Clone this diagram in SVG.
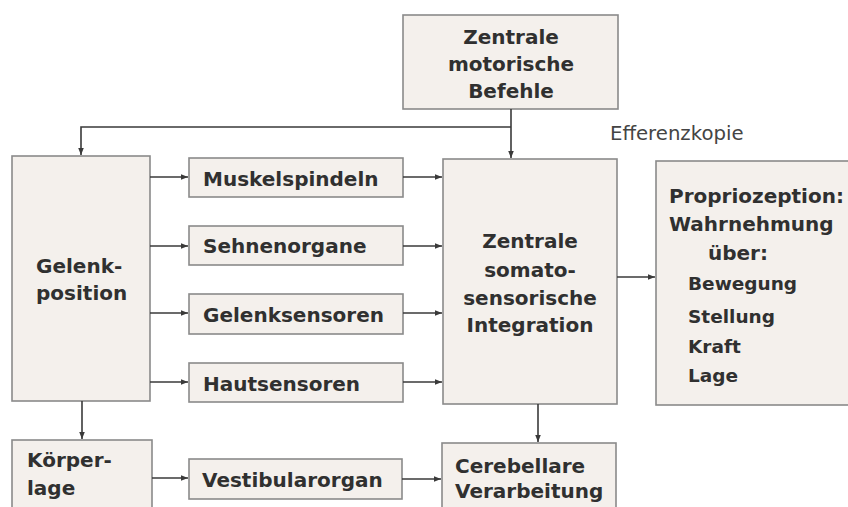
<svg xmlns="http://www.w3.org/2000/svg" width="848" height="507" viewBox="0 0 848 507">
  <style>
    .box { fill: #f4f0ec; stroke: #8a8a8a; stroke-width: 1.6; }
    .lbl { font-family: "DejaVu Sans", Verdana, sans-serif; font-weight: bold; font-size: 20px; fill: #303030; }
    .item { font-size: 18.5px; }
    .mid { text-anchor: middle; }
    .note { font-family: "DejaVu Sans", Verdana, sans-serif; font-size: 19.7px; fill: #444444; }
    .wire { fill: none; stroke: #3a3a3a; stroke-width: 1.6; marker-end: url(#arrow); }
  </style>
  <defs>
    <marker id="arrow" viewBox="0 0 10 10" refX="10" refY="5" markerWidth="7" markerHeight="7" markerUnits="userSpaceOnUse" orient="auto">
      <path d="M0,1 L10,5 L0,9 z" fill="#3a3a3a"/>
    </marker>
  </defs>
  <rect width="848" height="507" fill="#ffffff"/>

  <g id="motor-commands">
    <rect class="box" x="403" y="15" width="215" height="94"/>
    <text class="lbl mid" x="511" y="44">Zentrale</text>
    <text class="lbl mid" x="511" y="71">motorische</text>
    <text class="lbl mid" x="511" y="98">Befehle</text>
  </g>

  <text class="note" x="610" y="140">Efferenzkopie</text>

  <g id="joint-position">
    <rect class="box" x="12" y="156" width="138" height="245"/>
    <text class="lbl" x="36" y="273">Gelenk-</text>
    <text class="lbl" x="36" y="300">position</text>
  </g>

  <g id="muscle-spindles">
    <rect class="box" x="189" y="158" width="214" height="39"/>
    <text class="lbl" x="203" y="186">Muskelspindeln</text>
  </g>

  <g id="tendon-organs">
    <rect class="box" x="189" y="226" width="214" height="39"/>
    <text class="lbl" x="203" y="253">Sehnenorgane</text>
  </g>

  <g id="joint-sensors">
    <rect class="box" x="189" y="294" width="214" height="40"/>
    <text class="lbl" x="203" y="322">Gelenksensoren</text>
  </g>

  <g id="skin-sensors">
    <rect class="box" x="189" y="363" width="214" height="39"/>
    <text class="lbl" x="203" y="391">Hautsensoren</text>
  </g>

  <g id="somatosensory-integration">
    <rect class="box" x="443" y="159" width="174" height="245"/>
    <text class="lbl mid" x="530" y="248">Zentrale</text>
    <text class="lbl mid" x="530" y="277">somato-</text>
    <text class="lbl mid" x="530" y="305">sensorische</text>
    <text class="lbl mid" x="530" y="332">Integration</text>
  </g>

  <g id="proprioception">
    <rect class="box" x="656" y="161" width="200" height="244"/>
    <text class="lbl" x="669" y="203">Propriozeption:</text>
    <text class="lbl" x="669" y="231">Wahrnehmung</text>
    <text class="lbl" x="708" y="260">über:</text>
    <text class="lbl item" x="688" y="290">Bewegung</text>
    <text class="lbl item" x="688" y="323">Stellung</text>
    <text class="lbl item" x="688" y="353">Kraft</text>
    <text class="lbl item" x="688" y="382">Lage</text>
  </g>

  <g id="body-posture">
    <rect class="box" x="12" y="440" width="140" height="80"/>
    <text class="lbl" x="27" y="467">Körper-</text>
    <text class="lbl" x="27" y="495">lage</text>
  </g>

  <g id="vestibular-organ">
    <rect class="box" x="189" y="459" width="213" height="40"/>
    <text class="lbl" x="202" y="487">Vestibularorgan</text>
  </g>

  <g id="cerebellar-processing">
    <rect class="box" x="442" y="443" width="174" height="80"/>
    <text class="lbl" x="455" y="473">Cerebellare</text>
    <text class="lbl" x="455" y="498">Verarbeitung</text>
  </g>

  <g id="connectors">
    <!-- efference copy split -->
    <path class="wire" d="M511,109 V158"/>
    <path class="wire" d="M511,127 H81 V155"/>
    <!-- joint position to receptors -->
    <path class="wire" d="M150,177 H188"/>
    <path class="wire" d="M150,246 H188"/>
    <path class="wire" d="M150,313 H188"/>
    <path class="wire" d="M150,382 H188"/>
    <!-- receptors to integration -->
    <path class="wire" d="M403,177 H442"/>
    <path class="wire" d="M403,246 H442"/>
    <path class="wire" d="M403,313 H442"/>
    <path class="wire" d="M403,382 H442"/>
    <!-- integration outputs -->
    <path class="wire" d="M617,277 H655"/>
    <path class="wire" d="M538,404 V442"/>
    <!-- posture chain -->
    <path class="wire" d="M82,401 V439"/>
    <path class="wire" d="M152,478 H188"/>
    <path class="wire" d="M402,479 H441"/>
  </g>
</svg>
